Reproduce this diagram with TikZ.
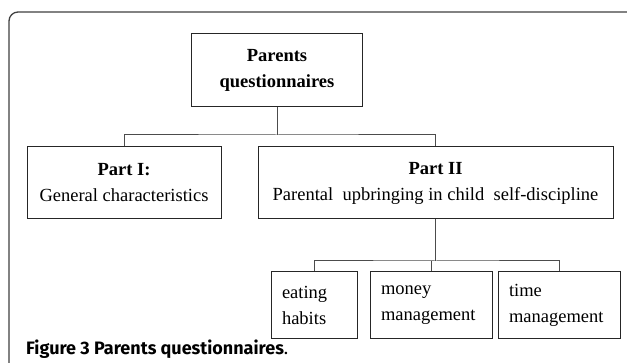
\documentclass[tikz,border=0pt]{standalone}
\usepackage{fontspec}
\setmainfont{Liberation Serif}
\newfontfamily\capfont{Fira Sans}
\begin{document}
\begin{tikzpicture}[x=1pt,y=-1pt,
  box/.style={draw=black!85, line width=1pt, inner sep=0pt, align=center,
    font=\fontsize{18.5}{26}\selectfont},
  leafbox/.style={draw=black!85, line width=1pt, inner xsep=11pt, inner ysep=0pt,
    align=left, minimum height=67pt, font=\fontsize{18.5}{26}\selectfont},
  conn/.style={draw=black!70, line width=1pt},
  frame/.style={draw=black!75, line width=1.3pt, rounded corners=9pt}]
\useasboundingbox (0,0) rectangle (627,363);
\fill[white] (0,0) rectangle (627,363);
\draw[frame] (9,363) -- (9,12) -- (627,12);

\node[box, minimum width=171pt, minimum height=73pt] (top) at (277,70.5)
  {\textbf{Parents}\\\textbf{questionnaires}};
\node[box, minimum width=194pt, minimum height=72pt] (p1) at (124,183)
  {\textbf{Part I:}\\General characteristics};
\node[box, minimum width=355pt, minimum height=72pt] (p2) at (435.5,183)
  {\textbf{Part II}\\Parental\ \ upbringing in child\ \ self-discipline};

\node[leafbox, text width=64pt] (b1) at (314,305.5) {eating\\habits};
\node[leafbox, text width=100pt] (b2) at (431,305.5) {money\\management};
\node[leafbox, text width=100pt] (b3) at (559,305.5) {time\\management};

\coordinate (j1) at (277,135);
\coordinate (j2) at (435.5,261);
\draw[conn] (top.south) -- (j1);
\draw[conn] (p1.north) |- (j1) -| (p2.north);
\draw[conn] (p2.south) -- (j2);
\draw[conn] (b1.north) |- (j2) -| (b3.north);
\draw[conn] (b2.north |- j2) -- (b2.north);

\node[anchor=base west, inner sep=0pt] (cap) at (26,355)
  {\capfont\fontsize{18}{21}\selectfont\bfseries Figure 3 Parents questionnaires\mdseries.};
\end{tikzpicture}
\end{document}
